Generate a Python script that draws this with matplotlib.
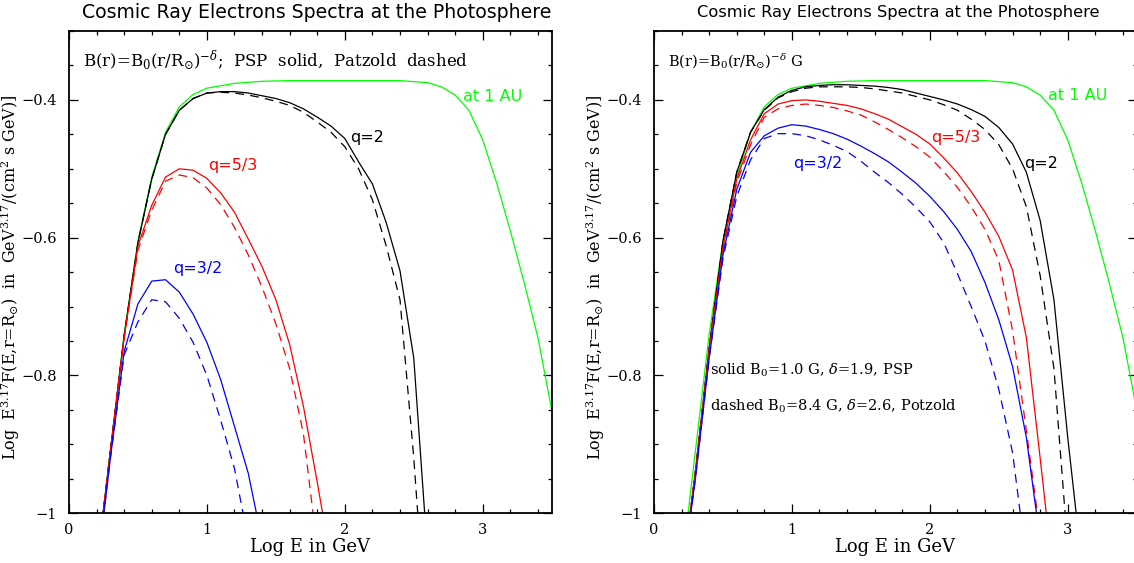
import matplotlib
matplotlib.use('Agg')
import matplotlib.pyplot as plt
from matplotlib.ticker import MultipleLocator, FuncFormatter

plt.rcParams['mathtext.fontset'] = 'dejavuserif'

## data: log E (GeV) and log E^3.17 F

# spectrum at 1 AU (same in both panels)
x_1au = [0.2, 0.3, 0.4, 0.5, 0.6, 0.7, 0.8, 0.9, 1.0, 1.2, 1.4, 1.6, 1.8, 2.0,
         2.2, 2.4, 2.6, 2.7, 2.8, 2.9, 3.0, 3.1, 3.2, 3.3, 3.4, 3.5]
y_1au = [-1.08, -0.91, -0.74, -0.605, -0.512, -0.447, -0.41, -0.392, -0.383,
         -0.376, -0.373, -0.372, -0.372, -0.372, -0.372, -0.372, -0.375, -0.381,
         -0.393, -0.415, -0.458, -0.52, -0.59, -0.665, -0.745, -0.85]

# left panel
xL_q2 = [0.2, 0.3, 0.4, 0.5, 0.6, 0.7, 0.8, 0.9, 1.0, 1.1, 1.2, 1.3, 1.4, 1.5,
         1.6, 1.7, 1.8, 1.9, 2.0, 2.1, 2.2, 2.3, 2.4, 2.5, 2.6]
yL_q2_psp = [-1.08, -0.91, -0.742, -0.607, -0.515, -0.45, -0.415, -0.398, -0.39,
             -0.388, -0.388, -0.39, -0.394, -0.398, -0.404, -0.413, -0.425,
             -0.438, -0.456, -0.49, -0.522, -0.578, -0.648, -0.775, -1.06]
yL_q2_pat = [-1.08, -0.91, -0.742, -0.607, -0.515, -0.45, -0.415, -0.398, -0.39,
             -0.389, -0.39, -0.393, -0.397, -0.402, -0.408, -0.418, -0.432,
             -0.447, -0.468, -0.5, -0.545, -0.612, -0.69, -0.92, -1.2]

xL_q53 = [0.2, 0.3, 0.4, 0.5, 0.6, 0.7, 0.8, 0.9, 1.0, 1.1, 1.2, 1.3, 1.4, 1.5,
          1.6, 1.7, 1.8, 1.9]
yL_q53_psp = [-1.08, -0.91, -0.745, -0.612, -0.553, -0.512, -0.5, -0.502, -0.514,
              -0.535, -0.563, -0.602, -0.642, -0.69, -0.755, -0.845, -0.955, -1.07]
yL_q53_pat = [-1.08, -0.91, -0.745, -0.618, -0.56, -0.518, -0.509, -0.513, -0.528,
              -0.552, -0.585, -0.625, -0.672, -0.725, -0.79, -0.885, -1.05, -1.2]

xL_q32 = [0.2, 0.3, 0.4, 0.5, 0.6, 0.7, 0.8, 0.9, 1.0, 1.1, 1.2, 1.3, 1.4]
yL_q32_psp = [-1.09, -0.92, -0.765, -0.696, -0.663, -0.661, -0.679, -0.711,
              -0.752, -0.806, -0.874, -0.942, -1.04]
yL_q32_pat = [-1.09, -0.92, -0.77, -0.722, -0.69, -0.693, -0.717, -0.752, -0.8,
              -0.865, -0.935, -1.04, -1.15]

# right panel
xR = [0.2, 0.3, 0.4, 0.5, 0.6, 0.7, 0.8, 0.9, 1.0, 1.1, 1.2, 1.3, 1.4, 1.5, 1.6,
      1.7, 1.8, 1.9, 2.0, 2.1, 2.2, 2.3, 2.4, 2.5, 2.6, 2.7, 2.8, 2.9, 3.0, 3.1]
yR_q2_psp = [-1.1, -0.94, -0.76, -0.605, -0.505, -0.447, -0.414, -0.396, -0.386,
             -0.381, -0.379, -0.378, -0.378, -0.379, -0.38, -0.382, -0.385, -0.39,
             -0.395, -0.4, -0.406, -0.414, -0.424, -0.44, -0.464, -0.505, -0.575,
             -0.69, -0.89, -1.07]
yR_q2_pat = [-1.1, -0.94, -0.76, -0.605, -0.505, -0.447, -0.415, -0.397, -0.388,
             -0.383, -0.381, -0.381, -0.381, -0.382, -0.384, -0.387, -0.39, -0.395,
             -0.4, -0.407, -0.415, -0.428, -0.443, -0.465, -0.5, -0.555, -0.655,
             -0.79, -1.05, -1.3]
yR_q53_psp = [-1.1, -0.94, -0.765, -0.615, -0.515, -0.458, -0.42, -0.406, -0.401,
              -0.4, -0.402, -0.405, -0.408, -0.413, -0.42, -0.428, -0.439, -0.45,
              -0.464, -0.484, -0.506, -0.533, -0.563, -0.598, -0.647, -0.745,
              -0.92, -1.1, -1.3, -1.5]
yR_q53_pat = [-1.1, -0.94, -0.765, -0.617, -0.52, -0.465, -0.425, -0.413, -0.408,
              -0.406, -0.408, -0.411, -0.416, -0.422, -0.432, -0.443, -0.455,
              -0.468, -0.483, -0.504, -0.527, -0.555, -0.588, -0.633, -0.735,
              -0.88, -1.03, -1.2, -1.4, -1.6]
yR_q32_psp = [-1.1, -0.95, -0.775, -0.625, -0.53, -0.476, -0.452, -0.441, -0.436,
              -0.438, -0.443, -0.449, -0.457, -0.467, -0.478, -0.49, -0.505,
              -0.521, -0.54, -0.562, -0.588, -0.62, -0.665, -0.719, -0.787, -0.89,
              -1.04, -1.2, -1.4, -1.6]
yR_q32_pat = [-1.1, -0.95, -0.775, -0.63, -0.54, -0.487, -0.456, -0.449, -0.449,
              -0.452, -0.458, -0.466, -0.475, -0.489, -0.505, -0.52, -0.537,
              -0.556, -0.577, -0.607, -0.652, -0.7, -0.75, -0.82, -0.912, -1.07,
              -1.2, -1.4, -1.6, -1.8]

## style
GREEN, RED, BLUE, BLACK = '#00ff00', '#ff0000', '#0000ff', '#000000'
LW = 0.9
DASH = (0, (7, 5))
SERIF = 'DejaVu Serif'
SANS = 'DejaVu Sans'

ylab = (r'Log  E$^{3.17}$F(E,r=R$_{⊙}$)  in  GeV$^{3.17}$/(cm$^2$ s GeV)]')


def fmt(v, pos):
    s = '%g' % round(v, 3)
    return s.replace('-', '\u2212')


def style_axes(ax):
    ax.set_xlim(0, 3.5)
    ax.set_ylim(-1, -0.3)
    ax.xaxis.set_major_locator(MultipleLocator(1))
    ax.xaxis.set_minor_locator(MultipleLocator(0.2))
    ax.yaxis.set_major_locator(MultipleLocator(0.2))
    ax.yaxis.set_minor_locator(MultipleLocator(0.05))
    ax.xaxis.set_major_formatter(FuncFormatter(fmt))
    ax.yaxis.set_major_formatter(FuncFormatter(fmt))
    ax.tick_params(which='both', direction='in', top=True, right=True,
                   width=0.9, labelsize=10.5)
    ax.tick_params(axis='y', pad=8.5)
    ax.tick_params(axis='x', pad=7)
    ax.tick_params(which='major', length=6.5)
    ax.tick_params(which='minor', length=3)
    for lab in ax.get_xticklabels() + ax.get_yticklabels():
        lab.set_family(SERIF)
    for sp in ax.spines.values():
        sp.set_linewidth(1.3)
    ax.set_xlabel('Log E in GeV', family=SERIF, fontsize=13)
    ax.xaxis.label.set_va('center')
    ax.xaxis.set_label_coords(0.5, -0.069)
    ax.set_ylabel(ylab, family=SERIF, fontsize=11.5)
    ax.yaxis.label.set_va('center')
    ax.yaxis.set_label_coords(-0.121, 0.49)


fig = plt.figure(figsize=(11.34, 5.63), dpi=100)
W, H = 1134., 563.
axL = fig.add_axes([69 / W, 49.7 / H, 482.7 / W, 482.3 / H])
axR = fig.add_axes([654 / W, 49.7 / H, 482.7 / W, 482.3 / H])

## left panel
axL.plot(x_1au, y_1au, color=GREEN, lw=LW)
axL.plot(xL_q2, yL_q2_psp, color=BLACK, lw=LW)
axL.plot(xL_q2, yL_q2_pat, color=BLACK, lw=LW, ls=DASH)
axL.plot(xL_q53, yL_q53_psp, color=RED, lw=LW)
axL.plot(xL_q53, yL_q53_pat, color=RED, lw=LW, ls=DASH)
axL.plot(xL_q32, yL_q32_psp, color=BLUE, lw=LW)
axL.plot(xL_q32, yL_q32_pat, color=BLUE, lw=LW, ls=DASH)
style_axes(axL)

axL.text(0.105, -0.343, r'B(r)=B$_0$(r/R$_{⊙}$)$^{-\delta}$;  PSP  solid,  Patzold  dashed',
         family=SERIF, fontsize=12, va='center', ha='left')
axL.text(3.069, -0.395, 'at 1 AU', color=GREEN, family=SANS, fontsize=11.5,
         ha='center', va='center')
axL.text(2.16, -0.454, 'q=2', color=BLACK, family=SANS, fontsize=11.5,
         ha='center', va='center')
axL.text(1.185, -0.495, 'q=5/3', color=RED, family=SANS, fontsize=11.5,
         ha='center', va='center')
axL.text(0.931, -0.645, 'q=3/2', color=BLUE, family=SANS, fontsize=11.5,
         ha='center', va='center')

## right panel
axR.plot(x_1au, y_1au, color=GREEN, lw=LW)
axR.plot(xR, yR_q2_psp, color=BLACK, lw=LW)
axR.plot(xR, yR_q2_pat, color=BLACK, lw=LW, ls=DASH)
axR.plot(xR, yR_q53_psp, color=RED, lw=LW)
axR.plot(xR, yR_q53_pat, color=RED, lw=LW, ls=DASH)
axR.plot(xR, yR_q32_psp, color=BLUE, lw=LW)
axR.plot(xR, yR_q32_pat, color=BLUE, lw=LW, ls=DASH)
style_axes(axR)

axR.text(0.104, -0.344, r'B(r)=B$_0$(r/R$_{⊙}$)$^{-\delta}$ G',
         family=SERIF, fontsize=10.5, va='center', ha='left')
axR.text(0.407, -0.793, r'solid B$_0$=1.0 G, $\delta$=1.9, PSP',
         family=SERIF, fontsize=10.5, va='center', ha='left')
axR.text(0.407, -0.844, r'dashed B$_0$=8.4 G, $\delta$=2.6, Potzold',
         family=SERIF, fontsize=10.5, va='center', ha='left')
axR.text(3.073, -0.394, 'at 1 AU', color=GREEN, family=SANS, fontsize=11.5,
         ha='center', va='center')
axR.text(2.81, -0.493, 'q=2', color=BLACK, family=SANS, fontsize=11.5,
         ha='center', va='center')
axR.text(2.186, -0.454, 'q=5/3', color=RED, family=SANS, fontsize=11.5,
         ha='center', va='center')
axR.text(1.187, -0.493, 'q=3/2', color=BLUE, family=SANS, fontsize=11.5,
         ha='center', va='center')

## titles
fig.text(317 / W, 1 - 12 / H, 'Cosmic Ray Electrons Spectra at the Photosphere',
         family=SANS, fontsize=13.6, ha='center', va='center')
fig.text(898.5 / W, 1 - 12 / H, 'Cosmic Ray Electrons Spectra at the Photosphere',
         family=SANS, fontsize=11.7, ha='center', va='center')

fig.savefig('out.png', dpi=100)
